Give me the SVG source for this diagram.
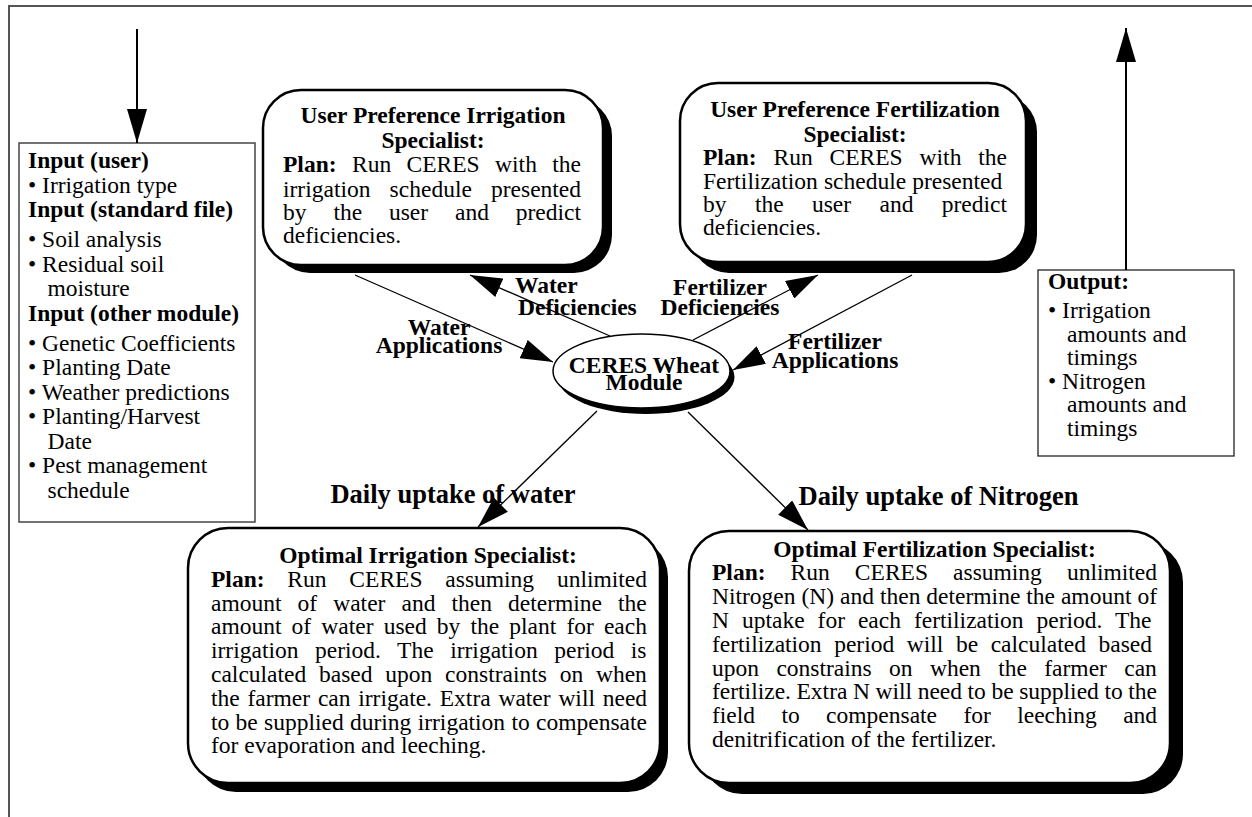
<svg xmlns="http://www.w3.org/2000/svg" width="1252" height="817" viewBox="0 0 1252 817">
<style>
text{font-family:"Liberation Serif","Times New Roman",serif;font-size:23.5px;fill:#000}
.b{font-weight:bold}
.m{text-anchor:middle}
.big{font-size:26.5px;font-weight:bold}
.front{fill:#fff;stroke:#000;stroke-width:2.5}
.shadow{fill:#000}
.conn{stroke:#000;stroke-width:1.3;fill:none;marker-end:url(#ah)}
.io{stroke:#000;stroke-width:2;fill:none;marker-end:url(#ah2)}
</style>
<defs>
<marker id="ah" markerUnits="userSpaceOnUse" markerWidth="32" markerHeight="20" refX="32" refY="10" orient="auto"><path d="M0,0 L32,10 L0,20 z" fill="#000"/></marker>
<marker id="ah2" markerUnits="userSpaceOnUse" markerWidth="34" markerHeight="20" refX="34" refY="10" orient="auto"><path d="M0,0 L34,10 L0,20 z" fill="#000"/></marker>
</defs>
<rect width="1252" height="817" fill="#fff"/>
<g id="frame" stroke="#555" stroke-width="2" fill="none"><path d="M9,817 L9,6 L1252,6"/></g>

<g id="input">
<rect x="19" y="143" width="236" height="379" fill="#fff" stroke="#444" stroke-width="1.5"/>
<text x="28" y="168" class="b">Input (user)</text>
<text x="28" y="192.5">• Irrigation type</text>
<text x="28" y="217" class="b">Input (standard file)</text>
<text x="28" y="247">• Soil analysis</text>
<text x="28" y="271.5">• Residual soil</text>
<text x="47.5" y="296">moisture</text>
<text x="28" y="320.5" class="b">Input (other module)</text>
<text x="28" y="350.5">• Genetic Coefficients</text>
<text x="28" y="375">• Planting Date</text>
<text x="28" y="399.5">• Weather predictions</text>
<text x="28" y="424">• Planting/Harvest</text>
<text x="47.5" y="448.5">Date</text>
<text x="28" y="473">• Pest management</text>
<text x="47.5" y="497.5">schedule</text>
</g>

<g id="output">
<rect x="1038" y="270" width="196" height="186" fill="#fff" stroke="#222" stroke-width="1.3"/>
<text x="1048" y="289" class="b">Output:</text>
<text x="1048" y="318">• Irrigation</text>
<text x="1067" y="341.5">amounts and</text>
<text x="1067" y="365">timings</text>
<text x="1048" y="388.5">• Nitrogen</text>
<text x="1067" y="412">amounts and</text>
<text x="1067" y="435.5">timings</text>
</g>

<g id="up-irrigation">
<rect class="shadow" x="272" y="98" width="340" height="175" rx="38"/>
<rect class="front" x="263" y="90" width="340" height="175" rx="38"/>
<text x="433" y="123" class="b m">User Preference Irrigation</text>
<text x="433" y="148" class="b m">Specialist:</text>
<text x="283" y="172" word-spacing="9.55"><tspan class="b">Plan:</tspan> Run CERES with the</text>
<text x="283" y="197" word-spacing="13.3">irrigation schedule presented</text>
<text x="283" y="220" word-spacing="21">by the user and predict</text>
<text x="283" y="243">deficiencies.</text>
</g>

<g id="up-fertilization">
<rect class="shadow" x="691" y="94" width="346" height="179" rx="38"/>
<rect class="front" x="680" y="83" width="346" height="179" rx="38"/>
<text x="855" y="117" class="b m">User Preference Fertilization</text>
<text x="855" y="142" class="b m">Specialist:</text>
<text x="703" y="165" word-spacing="11.05"><tspan class="b">Plan:</tspan> Run CERES with the</text>
<text x="703" y="189" word-spacing="0.17">Fertilization schedule presented</text>
<text x="703" y="212" word-spacing="22.5">by the user and predict</text>
<text x="703" y="235">deficiencies.</text>
</g>

<g id="ceres">
<ellipse cx="646" cy="377" rx="88.5" ry="37" fill="#000"/>
<ellipse cx="641.5" cy="371" rx="88.5" ry="37" fill="#fff" stroke="#000" stroke-width="1.5"/>
<text x="644" y="373" class="b m">CERES Wheat</text>
<text x="644" y="390" class="b m">Module</text>
</g>

<g id="optimal-irrigation">
<rect class="shadow" x="196" y="537" width="472" height="255" rx="40"/>
<rect class="front" x="188" y="528" width="472" height="255" rx="40"/>
<text x="428" y="563" class="b m">Optimal Irrigation Specialist:</text>
<text x="211" y="587" word-spacing="16.95"><tspan class="b">Plan:</tspan> Run CERES assuming unlimited</text>
<text x="211" y="611" word-spacing="10.2">amount of water and then determine the</text>
<text x="211" y="634" word-spacing="4.25">amount of water used by the plant for each</text>
<text x="211" y="658" word-spacing="10.7">irrigation period. The irrigation period is</text>
<text x="211" y="682" word-spacing="6.9">calculated based upon constraints on when</text>
<text x="211" y="706" word-spacing="1.9">the farmer can irrigate. Extra water will need</text>
<text x="211" y="730" word-spacing="0.43">to be supplied during irrigation to compensate</text>
<text x="211" y="753">for evaporation and leeching.</text>
</g>

<g id="optimal-fertilization">
<rect class="shadow" x="702" y="542" width="481" height="252" rx="40"/>
<rect class="front" x="689" y="531" width="481" height="252" rx="40"/>
<text x="934.5" y="557" class="b m">Optimal Fertilization Specialist:</text>
<text x="712" y="580" word-spacing="19.2"><tspan class="b">Plan:</tspan> Run CERES assuming unlimited</text>
<text x="712" y="604" word-spacing="0.08">Nitrogen (N) and then determine the amount of</text>
<text x="712" y="628" word-spacing="7.1">N uptake for each fertilization period. The</text>
<text x="712" y="652" word-spacing="6.7">fertilization period will be calculated based</text>
<text x="712" y="676" word-spacing="11.5">upon constrains on when the farmer can</text>
<text x="712" y="699" word-spacing="-0.3">fertilize. Extra N will need to be supplied to the</text>
<text x="712" y="723" word-spacing="20.5">field to compensate for leeching and</text>
<text x="712" y="747">denitrification of the fertilizer.</text>
</g>

<g id="connectors">
<path class="io" d="M137,29 L137,143"/>
<path class="io" d="M1126,270 L1126,28"/>
<path class="conn" d="M355,275 L553,362"/>
<path class="conn" d="M610,336 L470,275"/>
<path class="conn" d="M693,340 L818,275"/>
<path class="conn" d="M912,275 L733,370"/>
<path class="conn" d="M597,411 L478,527"/>
<path class="conn" d="M688,412 L808,530"/>
<text x="515" y="293" class="b">Water</text>
<text x="518" y="315" class="b">Deficiencies</text>
<text x="720" y="295" class="b m">Fertilizer</text>
<text x="720" y="315" class="b m">Deficiencies</text>
<text x="439" y="335" class="b m">Water</text>
<text x="439" y="353" class="b m">Applications</text>
<text x="835" y="349" class="b m">Fertilizer</text>
<text x="835" y="368" class="b m">Applications</text>
<text x="453" y="503" class="big m">Daily uptake of water</text>
<text x="938.5" y="505" class="big m">Daily uptake of Nitrogen</text>
</g>
</svg>
